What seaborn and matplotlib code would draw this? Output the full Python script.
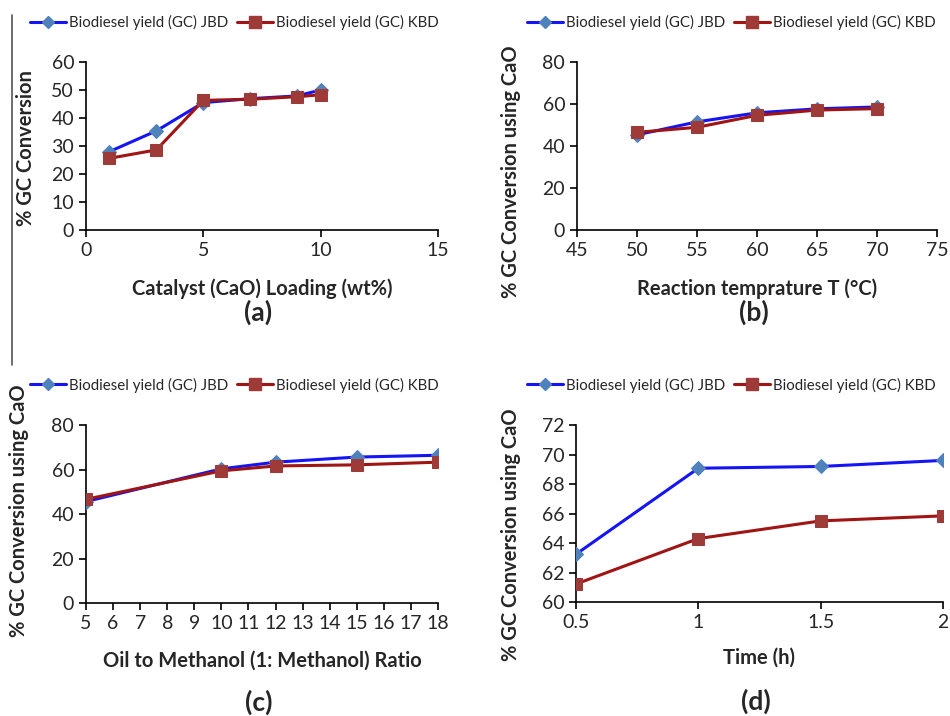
import numpy as np
import pandas as pd
import matplotlib
matplotlib.use("Agg")
import matplotlib.pyplot as plt
import seaborn as sns
from matplotlib.lines import Line2D

# (a) catalyst loading
cat_x = [1, 3, 5, 7, 9, 10]
cat_jbd = [28.0, 35.4, 45.5, 46.9, 47.9, 50.0]
cat_kbd = [25.6, 28.6, 46.3, 46.7, 47.6, 48.3]

# (b) reaction temperature
temp_x = [50, 55, 60, 65, 70]
temp_jbd = [45.3, 51.5, 55.8, 57.7, 58.6]
temp_kbd = [46.5, 48.9, 54.6, 57.1, 57.8]

# (c) oil to methanol ratio
ratio_x = [5, 10, 12, 15, 18]
ratio_jbd = [45.6, 60.3, 63.3, 65.6, 66.4]
ratio_kbd = [46.6, 59.4, 61.6, 62.1, 63.3]

# (d) time
time_x = [0.5, 1, 1.5, 2]
time_jbd = [63.24, 69.07, 69.19, 69.6]
time_kbd = [61.22, 64.3, 65.5, 65.84]

JBD_LABEL = "Biodiesel yield (GC) JBD"
KBD_LABEL = "Biodiesel yield (GC) KBD"
JBD_LINE, JBD_MARK = "#1414F5", "#4F81BD"
KBD_LINE, KBD_MARK = "#A01414", "#9E3B38"

sns.set_style("ticks")
plt.rcParams["font.family"] = ["Lato", "DejaVu Sans"]

fig = plt.figure(figsize=(9.5, 7.16), dpi=100)

panels = [
    # data, axes rect, xlim, xticks, ylim, yticks, xlabel, ylabel, label coords, caption, legend center
    (cat_x, cat_jbd, cat_kbd, [0.0905, 0.6788, 0.3705, 0.2346], (0, 15), [0, 5, 10, 15],
     (0, 60), range(0, 61, 10), "Catalyst (CaO) Loading (wt%)", "% GC Conversion",
     -0.142, 0.49, -0.286, -0.49, "(a)", (0.247, 0.968)),
    (temp_x, temp_jbd, temp_kbd, [0.6074, 0.6788, 0.3789, 0.2346], (45, 75), range(45, 76, 5),
     (0, 80), range(0, 81, 20), "Reaction temprature T (°C)", "% GC Conversion using CaO",
     -0.156, 0.345, -0.286, -0.49, "(b)", (0.770, 0.968)),
    (ratio_x, ratio_jbd, ratio_kbd, [0.0905, 0.1578, 0.3705, 0.2486], (5, 18), range(5, 19),
     (0, 80), range(0, 81, 20), "Oil to Methanol (1: Methanol) Ratio", "% GC Conversion using CaO",
     -0.162, 0.52, -0.27, -0.56, "(c)", (0.247, 0.462)),
    (time_x, time_jbd, time_kbd, [0.6063, 0.1592, 0.3863, 0.2472], (0.5, 2), [0.5, 1, 1.5, 2],
     (60, 72), range(60, 73, 2), "Time (h)", "% GC Conversion using CaO",
     -0.15, 0.38, -0.26, -0.56, "(d)", (0.770, 0.462)),
]

for (xs, jbd, kbd, rect, xlim, xticks, ylim, yticks, xlabel, ylabel,
     ylx, yly, xly, capy, caption, leg_pos) in panels:
    ax = fig.add_axes(rect)
    df = pd.DataFrame({"x": xs, "jbd": jbd, "kbd": kbd})
    sns.lineplot(data=df, x="x", y="jbd", ax=ax, color=JBD_LINE, lw=2.2,
                 marker="D", markersize=7, markerfacecolor=JBD_MARK,
                 markeredgecolor=JBD_MARK, zorder=3)
    sns.lineplot(data=df, x="x", y="kbd", ax=ax, color=KBD_LINE, lw=2.2,
                 marker="s", markersize=9, markerfacecolor=KBD_MARK,
                 markeredgecolor=KBD_MARK, zorder=4)
    ax.set_xlim(*xlim)
    ax.set_ylim(*ylim)
    ax.set_xticks(list(xticks))
    ax.set_yticks(list(yticks))
    ax.set_xticklabels([f"{t:g}" for t in xticks])
    sns.despine(ax=ax)
    ax.tick_params(labelsize=14, length=5, width=1.2, color="black", direction="out")
    for sp in ["left", "bottom"]:
        ax.spines[sp].set_linewidth(1.2)
        ax.spines[sp].set_color("black")
    ax.set_xlabel(xlabel, fontsize=14.5, fontweight="bold")
    ax.set_ylabel(ylabel, fontsize=14.5, fontweight="bold")
    ax.xaxis.set_label_coords(0.5, xly)
    ax.yaxis.set_label_coords(ylx, yly)
    ax.text(0.49, capy, caption, transform=ax.transAxes, ha="center", va="center",
            fontsize=19, fontweight="bold")

    handles = [
        Line2D([], [], color=JBD_LINE, lw=2.2, marker="D", markersize=6,
               markerfacecolor=JBD_MARK, markeredgecolor=JBD_MARK),
        Line2D([], [], color=KBD_LINE, lw=2.2, marker="s", markersize=8,
               markerfacecolor=KBD_MARK, markeredgecolor=KBD_MARK),
    ]
    fig.legend(handles, [JBD_LABEL, KBD_LABEL], loc="center", bbox_to_anchor=leg_pos,
               ncol=2, frameon=False, fontsize=10.8, handlelength=2.4,
               handletextpad=0.2, columnspacing=0.6)

# vertical separator line on the left edge
fig.add_artist(Line2D([12 / 950, 12 / 950], [1 - 15 / 716, 1 - 365 / 716],
                      color="#555555", lw=1.2))

fig.savefig("out.png", dpi=100)
